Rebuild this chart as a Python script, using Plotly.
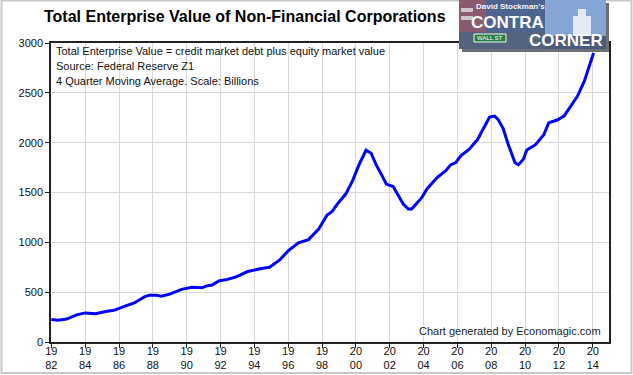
import plotly.graph_objects as go

# ---- data (decimal year, billions, 4Q moving average) ----
years = [1982.0, 1982.4, 1982.9, 1983.5, 1984.0, 1984.6, 1985.3, 1985.7, 1986.4, 1986.9,
         1987.5, 1987.8, 1988.2, 1988.5, 1989.0, 1989.7, 1990.3, 1990.9, 1991.2, 1991.5,
         1991.9, 1992.4, 1992.9, 1993.4, 1993.6, 1994.5, 1994.9, 1995.5, 1996.0, 1996.6,
         1997.2, 1997.8, 1998.3, 1998.6, 1998.9, 1999.4, 1999.8, 2000.2, 2000.6, 2000.9,
         2001.2, 2001.5, 2001.8, 2002.2, 2002.5, 2002.8, 2003.1, 2003.3, 2003.9, 2004.2,
         2004.8, 2005.3, 2005.6, 2005.9, 2006.2, 2006.7, 2007.2, 2007.6, 2007.9, 2008.2,
         2008.4, 2008.7, 2009.0, 2009.4, 2009.6, 2009.9, 2010.1, 2010.6, 2011.1, 2011.4,
         2011.9, 2012.3, 2012.7, 2013.1, 2013.5, 2013.8, 2014.0, 2014.05]
values = [225, 218, 230, 272, 292, 283, 308, 318, 362, 392,
          452, 470, 470, 460, 480, 528, 550, 545, 563, 572,
          612, 628, 652, 690, 707, 740, 750, 824, 915, 994,
          1027, 1134, 1274, 1310, 1384, 1484, 1617, 1784, 1924, 1894,
          1777, 1684, 1584, 1560, 1478, 1385, 1334, 1334, 1450, 1535,
          1650, 1717, 1777, 1800, 1867, 1934, 2034, 2167, 2257, 2267,
          2234, 2144, 1984, 1800, 1777, 1834, 1927, 1977, 2077, 2200,
          2227, 2267, 2367, 2467, 2617, 2784, 2884, 2900]

tick_years = list(range(1982, 2015, 2))
tick_labels = [f"{str(y)[:2]}<br>{str(y)[2:]}" for y in tick_years]
y_ticks = [0, 500, 1000, 1500, 2000, 2500, 3000]

title = "Total Enterprise Value of Non-Financial Corporations"
notes = ["Total Enterprise Value = credit market debt plus equity market value",
         "Source: Federal Reserve Z1",
         "4 Quarter Moving Average. Scale: Billions"]
credit = "Chart generated by Economagic.com"

W, H = 633, 375
L, R, T, B = 51, 24, 43, 33
PW, PH = W - L - R, H - T - B
FONT = "Liberation Sans, Arial, sans-serif"

def px(x):
    return (x - L) / PW

def py(y):
    return (H - B - y) / PH

fig = go.Figure()
fig.add_trace(go.Scatter(x=years, y=values, mode="lines",
                         line=dict(color="#0000ff", width=3), hoverinfo="skip"))

fig.update_layout(
    width=W, height=H,
    margin=dict(l=L, r=R, t=T, b=B, autoexpand=False),
    paper_bgcolor="white", plot_bgcolor="white",
    showlegend=False,
    font=dict(family=FONT, size=11, color="#111"),
)
fig.update_xaxes(range=[1981.98, 2014.96], tickmode="array", tickvals=tick_years,
                 ticktext=tick_labels, showgrid=True, gridcolor="#d9d9d9", gridwidth=1,
                 showline=True, linecolor="#222", linewidth=1.5, mirror=True,
                 ticks="outside", ticklen=4, tickcolor="#222", zeroline=False,
                 ticklabelstandoff=-6, automargin=False,
                 tickfont=dict(size=11, color="#111"))
fig.update_yaxes(range=[0, 3000], tickmode="array", tickvals=y_ticks,
                 showgrid=True, gridcolor="#d9d9d9", gridwidth=1,
                 showline=True, linecolor="#222", linewidth=1.5, mirror=True,
                 ticks="outside", ticklen=4, tickcolor="#222", zeroline=False,
                 automargin=False,
                 tickfont=dict(size=11, color="#111"))

ann = []
ann.append(dict(text=f"<b>{title}</b>", x=px(245), y=py(16), xref="paper", yref="paper",
                xanchor="center", yanchor="middle", showarrow=False,
                font=dict(size=16, color="#000", family=FONT)))
for i, t in enumerate(notes):
    ann.append(dict(text=t, x=px(54), y=py(51 + 15 * i), xref="paper", yref="paper",
                    xanchor="left", yanchor="middle", showarrow=False,
                    font=dict(size=11, color="#111", family=FONT)))
ann.append(dict(text=credit, x=px(603), y=py(331), xref="paper", yref="paper",
                xanchor="right", yanchor="middle", showarrow=False,
                font=dict(size=11, color="#222", family=FONT)))

# ---- logo (drawn) ----
shapes = []
def rect(x0, y0, x1, y1, fill, line=None, lw=0):
    shapes.append(dict(type="rect", xref="paper", yref="paper",
                       x0=px(x0), x1=px(x1), y0=py(y1), y1=py(y0),
                       fillcolor=fill, line=dict(color=line or fill, width=lw), layer="above"))

rect(462, 3, 609, 52, "#6e6e78")           # shadow
rect(459, 0, 606, 49, "#4f6390")           # base
rect(545, 0, 606, 36, "#86a6d6")           # sky
rect(459, 0, 486, 32, "#8a5a70")           # flag area
rect(461, 8, 473, 12, "#cfc6cc")
rect(461, 16, 473, 20, "#cfc6cc")
rect(459, 32, 545, 49, "#56637c")
rect(545, 36, 606, 49, "#4a5a78")
rect(573, 16, 591, 36, "#e4e9f2")          # capitol
rect(578, 9, 586, 16, "#e4e9f2")
rect(474, 34, 506, 42, "#2f7d4a", "#e8ffe8", 1)   # street sign
ann.append(dict(text="<b>David Stockman's</b>", x=px(510), y=py(6), xref="paper", yref="paper",
                xanchor="center", yanchor="middle", showarrow=False,
                font=dict(size=8, color="#f4f4ff", family=FONT)))
ann.append(dict(text="<b>CONTRA</b>", x=px(507), y=py(22), xref="paper", yref="paper",
                xanchor="center", yanchor="middle", showarrow=False,
                font=dict(size=17, color="#ffffff", family=FONT)))
ann.append(dict(text="<b>CORNER</b>", x=px(566), y=py(40), xref="paper", yref="paper",
                xanchor="center", yanchor="middle", showarrow=False,
                font=dict(size=17, color="#ffffff", family=FONT)))
ann.append(dict(text="WALL ST", x=px(490), y=py(38), xref="paper", yref="paper",
                xanchor="center", yanchor="middle", showarrow=False,
                font=dict(size=6, color="#ffffff", family=FONT)))

# outer frame
shapes.append(dict(type="rect", xref="paper", yref="paper",
                   x0=px(1.5), x1=px(631.5), y0=py(373), y1=py(0.5),
                   line=dict(color="#c8c8c8", width=2), fillcolor="rgba(0,0,0,0)", layer="below"))

fig.update_layout(annotations=ann, shapes=shapes)
fig.write_html("out.html", config={"displayModeBar": False},
               post_script="document.body.style.margin='0';document.body.style.overflow='hidden';")
